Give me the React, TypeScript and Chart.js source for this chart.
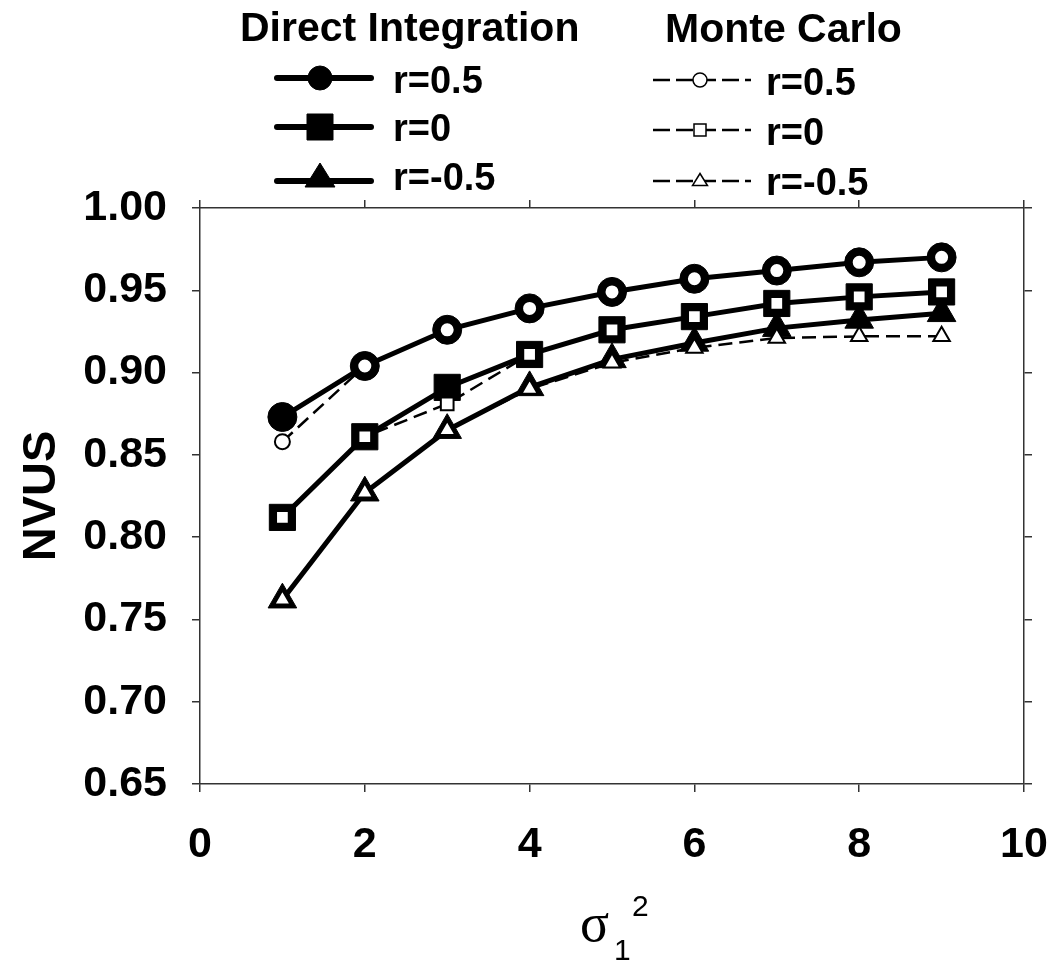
import React, { useEffect, useRef } from 'react';
import { Chart, registerables } from 'chart.js';

Chart.register(...registerables);

// ---- Data ----
const xValues = [1, 2, 3, 4, 5, 6, 7, 8, 9];
const diR05 = [0.873, 0.904, 0.926, 0.939, 0.949, 0.957, 0.962, 0.967, 0.970];
const diR0 = [0.812, 0.861, 0.891, 0.911, 0.926, 0.934, 0.942, 0.946, 0.949];
const diRm05 = [0.762, 0.827, 0.865, 0.891, 0.908, 0.918, 0.927, 0.932, 0.936];
const mcR05 = [0.858, 0.904, 0.926, 0.939, 0.949, 0.957, 0.962, 0.967, 0.970];
const mcR0 = [0.812, 0.861, 0.881, 0.911, 0.926, 0.934, 0.942, 0.946, 0.949];
const mcRm05 = [0.762, 0.827, 0.865, 0.890, 0.906, 0.915, 0.921, 0.922, 0.922];

const seriesLabels = ['r=0.5', 'r=0', 'r=-0.5'];
const groupTitles = ['Direct Integration', 'Monte Carlo'];
const yAxisTitle = 'NVUS';

const SANS = '"Liberation Sans", Arial, sans-serif';
const SERIF = '"Liberation Serif", "Times New Roman", serif';

const toPoints = (arr: number[]) => xValues.map((x, i) => ({ x, y: arr[i] }));

function drawMarker(ctx: CanvasRenderingContext2D, style: string, x: number, y: number, size: number, fill: string, lw: number) {
  ctx.save();
  ctx.beginPath();
  if (style === 'circle') {
    ctx.arc(x, y, size, 0, Math.PI * 2);
  } else if (style === 'rect') {
    ctx.rect(x - size, y - size, size * 2, size * 2);
  } else {
    ctx.moveTo(x, y - size);
    ctx.lineTo(x + size * 0.866 * 1.15, y + size * 0.6);
    ctx.lineTo(x - size * 0.866 * 1.15, y + size * 0.6);
    ctx.closePath();
  }
  ctx.fillStyle = fill;
  ctx.fill();
  ctx.lineWidth = lw;
  ctx.strokeStyle = '#000';
  ctx.stroke();
  ctx.restore();
}

const legendPlugin = {
  id: 'customLegend',
  afterDraw(chart: any) {
    const ctx: CanvasRenderingContext2D = chart.ctx;
    ctx.save();
    ctx.fillStyle = '#000';
    ctx.textBaseline = 'alphabetic';
    ctx.textAlign = 'left';
    ctx.font = `bold 41px ${SANS}`;
    ctx.fillText(groupTitles[0], 240, 41);
    ctx.fillText(groupTitles[1], 665, 42);

    const styles = ['circle', 'rect', 'triangle'];
    // Direct Integration rows
    const diRows = [78, 127, 178];
    const diBase = [93, 141, 190];
    const diSizes = [12, 13, 15];
    diRows.forEach((ry, i) => {
      ctx.save();
      ctx.strokeStyle = '#000';
      ctx.lineWidth = 6;
      ctx.lineCap = 'round';
      ctx.beginPath();
      ctx.moveTo(277, i === 2 ? ry + 3 : ry);
      ctx.lineTo(371, i === 2 ? ry + 3 : ry);
      ctx.stroke();
      ctx.restore();
      drawMarker(ctx, styles[i], 320, ry, diSizes[i], '#000', 1);
      ctx.font = `bold 38px ${SANS}`;
      ctx.fillStyle = '#000';
      ctx.fillText(seriesLabels[i], 393, diBase[i]);
    });
    // Monte Carlo rows
    const mcRows = [80, 130, 181];
    const mcBase = [95, 145, 195];
    const mcSizes = [7, 6, 7.5];
    mcRows.forEach((ry, i) => {
      ctx.save();
      ctx.strokeStyle = '#000';
      ctx.lineWidth = 2.7;
      ctx.setLineDash([17, 6]);
      ctx.beginPath();
      ctx.moveTo(653, ry);
      ctx.lineTo(751, ry);
      ctx.stroke();
      ctx.restore();
      drawMarker(ctx, styles[i], 700, ry, mcSizes[i], '#fff', 1.5);
      ctx.font = `bold 38px ${SANS}`;
      ctx.fillStyle = '#000';
      ctx.fillText(seriesLabels[i], 766, mcBase[i]);
    });

    // x-axis title: sigma_1^2
    ctx.fillStyle = '#000';
    ctx.font = `54px ${SERIF}`;
    ctx.fillText('σ', 580, 941);
    ctx.font = `30px ${SANS}`;
    ctx.fillText('1', 614, 960);
    ctx.fillText('2', 632, 916);
    ctx.restore();
  },
};

export default function App() {
  const ref = useRef<HTMLCanvasElement>(null);
  useEffect(() => {
    const canvas = ref.current;
    if (!canvas) return;
    Chart.defaults.font.family = SANS;
    const gridOpts = {
      display: true,
      drawOnChartArea: false,
      drawTicks: true,
      tickLength: 8,
      color: '#333',
      lineWidth: 1.5,
    };
    const borderOpts = { display: true, color: '#333', width: 1.5 };
    const tickFont = { size: 43, weight: 'bold' as const, family: SANS };
    const zeroPad = (s: any) => { s.paddingLeft = 0; s.paddingRight = 0; s.paddingTop = 0; s.paddingBottom = 0; };

    const diBase = { borderColor: '#000', borderWidth: 5, pointBackgroundColor: '#000', pointBorderColor: '#000', pointBorderWidth: 1, tension: 0, fill: false, order: 1 };
    const mcBase = { borderColor: '#000', borderWidth: 2.5, borderDash: [14, 7], pointBackgroundColor: '#fff', pointBorderColor: '#000', pointBorderWidth: 2, tension: 0, fill: false, order: 0 };

    const chart = new Chart(canvas, {
      type: 'line',
      data: {
        datasets: [
          { ...diBase, label: 'DI ' + seriesLabels[0], data: toPoints(diR05), pointStyle: 'circle', pointRadius: 14.5 },
          { ...diBase, label: 'DI ' + seriesLabels[1], data: toPoints(diR0), pointStyle: 'rect', pointRadius: 18.5 },
          { ...diBase, label: 'DI ' + seriesLabels[2], data: toPoints(diRm05), pointStyle: 'triangle', pointRadius: 16.5 },
          { ...mcBase, label: 'MC ' + seriesLabels[0], data: toPoints(mcR05), pointStyle: 'circle', pointRadius: 7.5 },
          { ...mcBase, label: 'MC ' + seriesLabels[1], data: toPoints(mcR0), pointStyle: 'rect', pointRadius: 9 },
          { ...mcBase, label: 'MC ' + seriesLabels[2], data: toPoints(mcRm05), pointStyle: 'triangle', pointRadius: 9.5 },
        ] as any,
      },
      options: {
        responsive: false,
        animation: false,
        layout: { padding: { top: 200, right: 18, left: 0, bottom: 0 } },
        plugins: { legend: { display: false }, tooltip: { enabled: false } },
        scales: {
          x: {
            type: 'linear',
            position: 'bottom',
            min: 0,
            max: 10,
            ticks: { stepSize: 2, font: tickFont, color: '#000', padding: 27 },
            grid: gridOpts,
            border: borderOpts,
            afterFit: (s: any) => { s.height = 186; zeroPad(s); },
          },
          x2: {
            type: 'linear',
            position: 'top',
            min: 0,
            max: 10,
            ticks: { stepSize: 2, display: false },
            grid: gridOpts,
            border: borderOpts,
            afterFit: (s: any) => { s.height = 8; zeroPad(s); },
          },
          y: {
            type: 'linear',
            position: 'left',
            min: 0.65,
            max: 1.0,
            ticks: { stepSize: 0.05, font: tickFont, color: '#000', padding: 25, callback: (v: any) => Number(v).toFixed(2) },
            grid: gridOpts,
            border: borderOpts,
            title: { display: true, text: yAxisTitle, color: '#000', font: { size: 47, weight: 'bold', family: SANS }, padding: { top: 14, bottom: 0 } },
            afterFit: (s: any) => { s.width = 200; zeroPad(s); },
          },
          y2: {
            type: 'linear',
            position: 'right',
            min: 0.65,
            max: 1.0,
            ticks: { stepSize: 0.05, display: false },
            grid: gridOpts,
            border: borderOpts,
            afterFit: (s: any) => { s.width = 8; zeroPad(s); },
          },
        },
      } as any,
      plugins: [legendPlugin],
    });
    return () => chart.destroy();
  }, []);
  return (
    <div style={{ position: 'absolute', left: 0, top: 0, width: 1050, height: 970, background: '#fff' }}>
      <canvas ref={ref} width={1050} height={970} style={{ display: 'block' }} />
    </div>
  );
}
